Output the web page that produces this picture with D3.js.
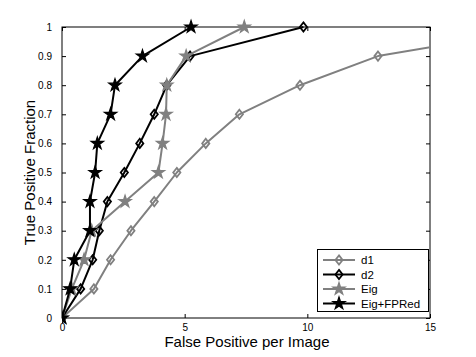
<!DOCTYPE html>
<html><head><meta charset="utf-8">
<script src="https://cdn.jsdelivr.net/npm/d3@7"></script>
<style>body{margin:0;background:#fff}svg{display:block}text{font-family:"Liberation Sans",Arial,sans-serif}</style>
</head><body>
<script>
const seriesNames = ["d1", "d2", "Eig", "Eig+FPRed"];
const d1X = [0, 1.3, 1.98, 2.81, 3.76, 4.68, 5.86, 7.23, 9.7, 12.88, 19.9];
const d1Y = [0, 0.1, 0.2, 0.3, 0.4, 0.5, 0.6, 0.7, 0.8, 0.9, 1.0];
const d2X = [0, 0.76, 1.25, 1.52, 1.85, 2.54, 3.17, 3.76, 4.27, 5.22, 9.84];
const d2Y = [0, 0.1, 0.2, 0.3, 0.4, 0.5, 0.6, 0.7, 0.8, 0.9, 1.0];
const eigX = [0, 0.4, 0.9, 1.21, 2.57, 3.93, 4.1, 4.24, 4.27, 5.06, 7.43];
const eigY = [0, 0.1, 0.2, 0.3, 0.4, 0.5, 0.6, 0.7, 0.8, 0.9, 1.0];
const fprX = [0, 0.33, 0.5, 1.14, 1.14, 1.35, 1.44, 1.98, 2.16, 3.28, 5.26];
const fprY = [0, 0.1, 0.2, 0.3, 0.4, 0.5, 0.6, 0.7, 0.8, 0.9, 1.0];
const xTicks = [0, 5, 10, 15];
const yTicks = [0, 0.1, 0.2, 0.3, 0.4, 0.5, 0.6, 0.7, 0.8, 0.9, 1];
const xLabel = "False Positive per Image";
const yLabel = "True Positive Fraction";

const W = 476, H = 357;
const L = 62, R = 430, T = 27, B = 318;
const x = d3.scaleLinear().domain([0, 15]).range([L, R]);
const y = d3.scaleLinear().domain([0, 1]).range([B, T]);

const svg = d3.select("body").append("svg").attr("width", W).attr("height", H);
svg.append("defs").append("clipPath").attr("id", "clip")
  .append("rect").attr("x", L).attr("y", T - 10).attr("width", R - L).attr("height", B - T + 20);

const gray = "#808080";
const series = [
  {name: seriesNames[0], xs: d1X, ys: d1Y, color: gray, marker: "diamond"},
  {name: seriesNames[1], xs: d2X, ys: d2Y, color: "#000", marker: "diamond"},
  {name: seriesNames[2], xs: eigX, ys: eigY, color: gray, marker: "star"},
  {name: seriesNames[3], xs: fprX, ys: fprY, color: "#000", marker: "star"}
];

function starPath(r) {
  const ri = r * 0.382;
  let p = "";
  for (let i = 0; i < 10; i++) {
    const a = -Math.PI / 2 + i * Math.PI / 5;
    const rr = i % 2 ? ri : r;
    p += (i ? "L" : "M") + (rr * Math.cos(a)).toFixed(2) + "," + (rr * Math.sin(a)).toFixed(2);
  }
  return p + "Z";
}
function diamondPath(w, h) { return `M0,${-h}L${w},0L0,${h}L${-w},0Z`; }

function drawMarker(g, type, color, cx, cy) {
  if (type === "diamond") {
    g.append("path").attr("d", diamondPath(3.6, 4.6)).attr("transform", `translate(${cx},${cy})`)
      .attr("fill", "none").attr("stroke", color).attr("stroke-width", 1.8);
  } else {
    g.append("path").attr("d", starPath(6.5)).attr("transform", `translate(${cx},${cy})`)
      .attr("fill", color).attr("stroke", color).attr("stroke-width", 1.2).attr("stroke-linejoin", "miter");
  }
}

// axes box
const axG = svg.append("g");
axG.append("rect").attr("x", L).attr("y", T).attr("width", R - L).attr("height", B - T)
  .attr("fill", "none").attr("stroke", "#000").attr("stroke-width", 1);

const xAxis = d3.axisBottom(x).tickValues(xTicks).tickSize(-4).tickPadding(6).tickFormat(d3.format("d"));
const gx = svg.append("g").attr("transform", `translate(0,${B})`).call(xAxis);
const xTop = d3.axisTop(x).tickValues(xTicks).tickSize(-4).tickFormat("");
const gxt = svg.append("g").attr("transform", `translate(0,${T})`).call(xTop);
const yAxis = d3.axisLeft(y).tickValues(yTicks).tickSize(-4).tickPadding(10).tickFormat(d => d === 0 ? "0" : d === 1 ? "1" : d3.format(".1f")(d));
const gy = svg.append("g").attr("transform", `translate(${L},0)`).call(yAxis);
const yRight = d3.axisRight(y).tickValues(yTicks).tickSize(-4).tickFormat("");
const gyr = svg.append("g").attr("transform", `translate(${R},0)`).call(yRight);
[gx, gxt, gy, gyr].forEach(g => {
  g.select(".domain").remove();
  g.selectAll("line").attr("stroke", "#000");
  g.selectAll("text").attr("font-size", 10).attr("fill", "#000").style("font-family", "'Liberation Sans',Arial,sans-serif");
});

svg.append("text").attr("x", (L + R) / 2 + 1).attr("y", 347).attr("text-anchor", "middle")
  .attr("font-size", 15).text(xLabel);
svg.append("text").attr("transform", `translate(35,${(T + B) / 2}) rotate(-90)`).attr("text-anchor", "middle")
  .attr("font-size", 15).text(yLabel);

const plotG = svg.append("g").attr("clip-path", "url(#clip)");
const line = d3.line().x(d => x(d[0])).y(d => y(d[1]));
series.forEach(s => {
  const pts = s.xs.map((v, i) => [v, s.ys[i]]);
  plotG.append("path").attr("d", line(pts)).attr("fill", "none").attr("stroke", s.color)
    .attr("stroke-width", 2).attr("stroke-linejoin", "round");
  const mg = plotG.append("g");
  pts.forEach(p => drawMarker(mg, s.marker, s.color, x(p[0]), y(p[1])));
});

// legend
const lg = svg.append("g");
lg.append("rect").attr("x", 317.5).attr("y", 249.5).attr("width", 111).attr("height", 62)
  .attr("fill", "#fff").attr("stroke", "#000").attr("stroke-width", 1);
series.forEach((s, i) => {
  const cy = 260 + i * 14.5;
  lg.append("line").attr("x1", 323).attr("x2", 355).attr("y1", cy).attr("y2", cy)
    .attr("stroke", s.color).attr("stroke-width", 2);
  drawMarker(lg, s.marker, s.color, 339, cy);
  lg.append("text").attr("x", 361).attr("y", cy + 4).attr("font-size", 11.5).text(s.name);
});
</script>
</body></html>
